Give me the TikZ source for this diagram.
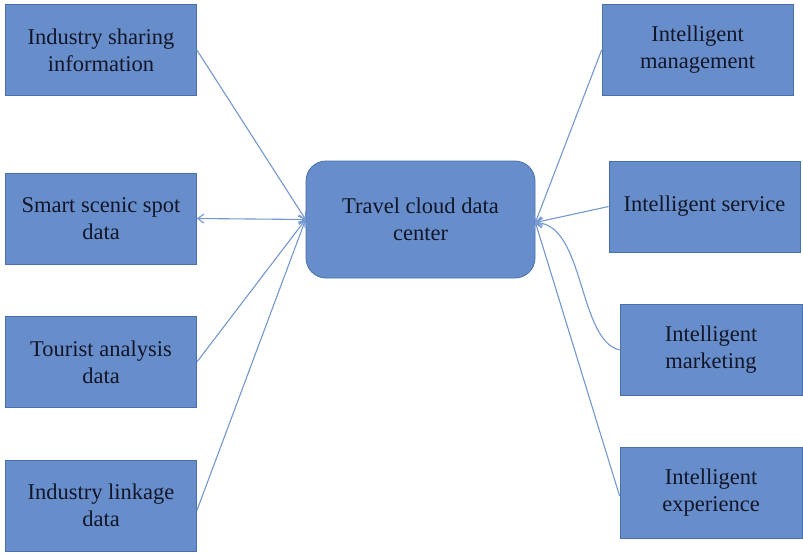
\documentclass[tikz,border=0pt]{standalone}
\usepackage{fontspec}
\setmainfont{Liberation Serif}
\usetikzlibrary{arrows.meta}
\definecolor{boxfill}{RGB}{103,142,203}
\definecolor{boxline}{RGB}{72,112,172}
\definecolor{conn}{RGB}{115,152,208}
\definecolor{txt}{RGB}{18,22,40}
\begin{document}
\begin{tikzpicture}[x=1pt,y=-1pt,
  box/.style={draw=boxline,line width=0.8pt,fill=boxfill,minimum width=191pt,minimum height=91pt,
    inner sep=2pt,align=center,text=txt,font=\fontsize{22.5}{27}\selectfont},
  hub/.style={box,rounded corners=20pt,minimum width=229pt,minimum height=117pt},
  conn/.style={draw=conn,line width=1.1pt,-{Straight Barb[length=6pt,width=9pt]}}]
\useasboundingbox (0,0) rectangle (803,552);
\node[hub] (c) at (420.5,219.5) {Travel cloud data\\center};
\node[box] (l1) at (101,50) {Industry sharing\\information};
\node[box] (l2) at (101,218.5) {Smart scenic spot\\data};
\node[box] (l3) at (101,362) {Tourist analysis\\data};
\node[box] (l4) at (101,505.5) {Industry linkage\\data};
\node[box] (r1) at (697.5,50) {Intelligent\\management};
\node[box] (r2) at (704.5,206.5) {Intelligent service};
\node[box,minimum width=182pt] (r3) at (711,350) {Intelligent\\marketing};
\node[box,minimum width=182pt] (r4) at (711,493) {Intelligent\\experience};
\coordinate (cl) at (c.west);
\coordinate (cr) at ([yshift=-3pt]c.east);
\draw[conn] (l1.east) -- (cl);
\draw[conn,{Straight Barb[length=6pt,width=9pt]}-{Straight Barb[length=6pt,width=9pt]}] (l2.east) -- (cl);
\draw[conn] (l3.east) -- (cl);
\draw[conn] ([yshift=-5pt]l4.east) -- (cl);
\draw[conn] (r1.west) -- (cr);
\draw[conn] (r2.west) -- (cr);
\draw[conn] (r3.west) .. controls (578,340) and (585,225) .. (cr);
\draw[conn] ([yshift=-3pt]r4.west) -- (cr);
\end{tikzpicture}
\end{document}
